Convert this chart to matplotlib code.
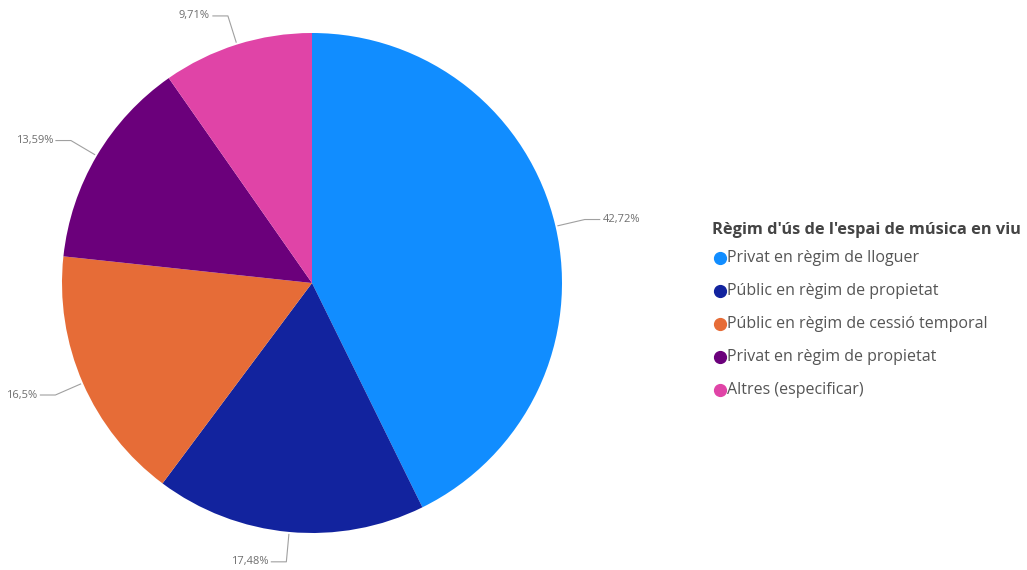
import numpy as np
import matplotlib.pyplot as plt
from matplotlib.lines import Line2D

plt.rcParams['font.family'] = ['Open Sans', 'DejaVu Sans']

categories = ['Privat en règim de lloguer',
              'Públic en règim de propietat',
              'Públic en règim de cessió temporal',
              'Privat en règim de propietat',
              'Altres (especificar)']
values = [42.72, 17.48, 16.5, 13.59, 9.71]
pct_labels = ['42,72%', '17,48%', '16,5%', '13,59%', '9,71%']
colors = ['#118DFF', '#12239E', '#E66C37', '#6B007B', '#E044A7']
legend_title = "Règim d'ús de l'espai de música en viu"

W, H = 1027, 570
fig = plt.figure(figsize=(W / 100, H / 100), dpi=100)

# pie centre and radius in pixels
cx, cy, R = 312, 283, 250
ax = fig.add_axes([(cx - R) / W, (H - cy - R) / H, 2 * R / W, 2 * R / H])

wedges, _ = ax.pie(values, colors=colors, startangle=90, counterclock=False,
                   radius=1, wedgeprops=dict(linewidth=0))
ax.set_xlim(-1, 1)
ax.set_ylim(-1, 1)
ax.axis('off')

# leader lines: short radial piece, then horizontal run to the label
for w, lab in zip(wedges, pct_labels):
    ang = np.deg2rad((w.theta1 + w.theta2) / 2)
    x0, y0 = 1.01 * np.cos(ang), 1.01 * np.sin(ang)
    x1, y1 = 1.12 * np.cos(ang), 1.12 * np.sin(ang)
    side = 1 if np.cos(ang) >= 0 else -1
    x2 = x1 + side * 0.06
    ax.plot([x0, x1, x2], [y0, y1, y1], color='#a0a0a0', lw=0.8, clip_on=False)
    ax.text(x2 + side * 0.012, y1, lab, ha='left' if side > 0 else 'right',
            va='center', fontsize=8, color='#6e6e6e', clip_on=False)

# legend
lx, ly = 712, 230
fig.text(lx / W, 1 - ly / H, legend_title, fontsize=11.8, fontweight='bold',
         color='#444444', va='center', ha='left')
for i, (cat, col) in enumerate(zip(categories, colors)):
    yy = 1 - (258 + i * 33) / H
    fig.add_artist(Line2D([720 / W], [yy], marker='o', markersize=8.5,
                          color=col, transform=fig.transFigure))
    fig.text(727 / W, yy, cat, fontsize=11.5, color='#555555', va='center', ha='left')

fig.savefig('out.png', dpi=100, facecolor='white')
